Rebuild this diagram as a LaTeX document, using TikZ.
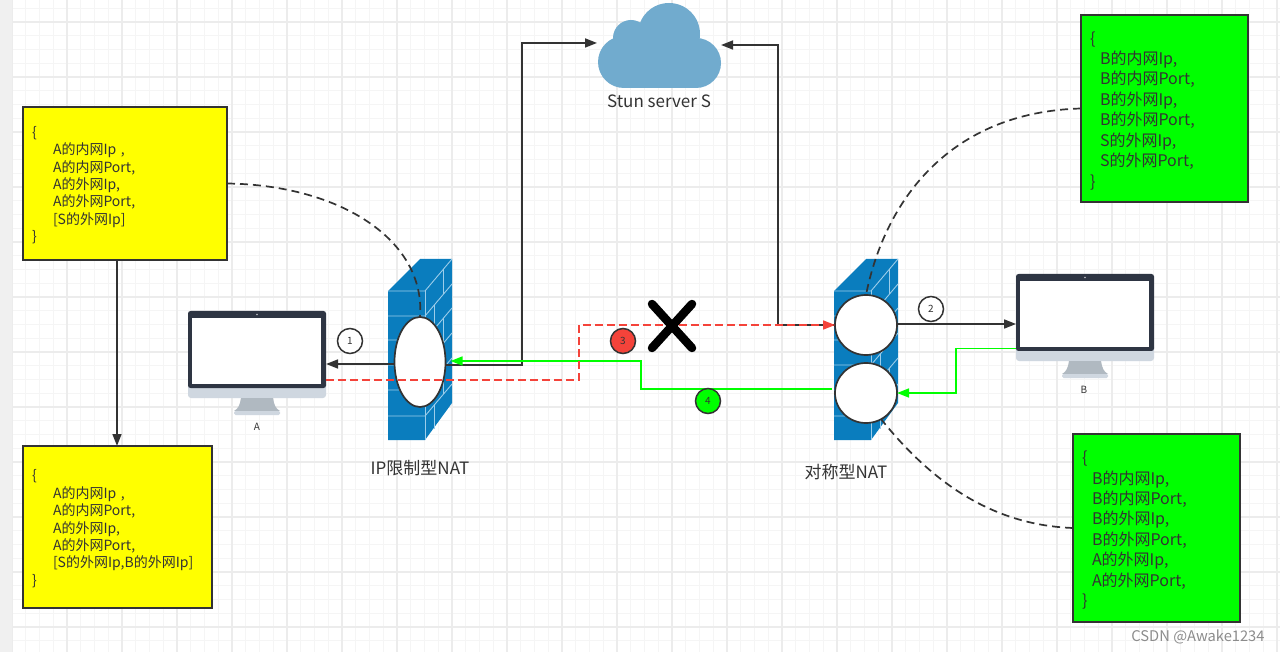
\documentclass[tikz,border=0pt]{standalone}
\usepackage{fontspec}
\setmainfont{Noto Sans CJK SC}
\usetikzlibrary{arrows.meta,shapes.geometric}
\definecolor{ink}{HTML}{333333}
\definecolor{wallblue}{HTML}{0A7DBE}
\definecolor{brick}{HTML}{9CCDEA}
\definecolor{cloudblue}{HTML}{71ABCE}
\definecolor{lime}{HTML}{00FF00}
\definecolor{lemon}{HTML}{FFFF00}
\definecolor{alarm}{HTML}{F4433A}
\definecolor{screenframe}{HTML}{2E3543}
\definecolor{chin}{HTML}{CFD7E0}
\definecolor{stand}{HTML}{B0B9C1}
\definecolor{gridfine}{HTML}{F5F5F5}
\definecolor{gridbold}{HTML}{ECECEC}
\tikzset{
  x=1pt, y=-1pt,
  minorgrid/.style={draw=gridfine, line width=1.2pt},
  majorgrid/.style={draw=gridbold, line width=1.2pt},
  infobox/.style={draw=ink, line width=2pt, outer sep=0pt, inner ysep=0pt, inner xsep=#1, align=left,
    text=ink, anchor=center, font=\fontsize{14}{17.4}\selectfont},
  greenbox/.style={infobox=#1, fill=lime, font=\fontsize{16}{20.45}\selectfont},
  yellowbox/.style={infobox=#1, fill=lemon},
  hole/.style={draw=ink, line width=1.7pt, fill=white, outer sep=0pt, inner sep=0pt},
  badge/.style={circle, draw=ink, line width=1.5pt, fill=white, minimum size=25pt, inner sep=0pt,
    text=ink, font=\fontsize{10}{12}\selectfont},
  caption/.style={text=ink, inner sep=0pt, font=\fontsize{17}{20}\selectfont},
  small/.style={text=ink, inner sep=0pt, font=\fontsize{10}{12}\selectfont},
  solidflow/.style={draw=ink, line width=1.7pt, -{Triangle[length=12pt,width=9pt]}},
  greenflow/.style={draw=lime, line width=1.6pt, -{Triangle[length=12pt,width=9pt]}},
  redflow/.style={draw=alarm, line width=1.7pt, dash pattern=on 8pt off 4pt, -{Triangle[length=12pt,width=9pt]}},
  tether/.style={draw=ink, line width=1.7pt, dash pattern=on 8pt off 5pt},
  frame/.style={fill=screenframe, rounded corners=2.5pt, outer sep=0pt, inner sep=0pt, minimum width=138pt, minimum height=77pt},
}
% Firewall block: front face, side face and brick joints
\newcommand{\brickwall}[1]{%
  \begin{scope}[shift={(#1,0)}]
    \fill[wallblue] (388,291) -- (420,259) -- (452,259) -- (452,403) -- (425,440) -- (388,440) -- cycle;
    \begin{scope}[draw=brick, line width=0.9pt]
      \draw (388,291) -- (425,291) -- (452,259);
      \draw (425,291) -- (425,440);
      \foreach \ya in {316,340,365,390,416} {
        \draw (388,\ya) -- (425,\ya) -- (452,\ya-32);
      }
      \draw (443,269) -- (443,294);
      \draw (434,305) -- (434,329);
      \draw (443,318) -- (443,343);
      \draw (434,354) -- (434,379);
      \draw (443,368) -- (443,394);
      \draw (434,404) -- (434,429);
    \end{scope}
  \end{scope}}
% Desktop monitor: name, left edge, top edge
\newcommand{\desktop}[3]{%
  \begin{scope}[shift={(#2,#3)}]
    \fill[chin, rounded corners=3pt] (0,70) rectangle (138,87);
    \fill[stand] (53,87) -- (85,87) .. controls (86,94) and (88,98) .. (92,100) -- (46,100) .. controls (50,98) and (52,94) .. (53,87) -- cycle;
    \fill[chin, rounded corners=1.5pt] (46,100) rectangle (92,104);
    \node[frame] (#1) at (69,38.5) {};
    \fill[white] (4,7) rectangle (133,73);
    \fill[white!70!screenframe] (69,3.5) circle (0.8pt);
  \end{scope}}
\begin{document}
\begin{tikzpicture}
  \useasboundingbox (0,0) rectangle (1280,652);
  \fill[white] (0,0) rectangle (1280,652);
  % Squared paper
  \foreach \i in {0,...,92} \draw[minorgrid] ({12+13.75*\i},0) -- ({12+13.75*\i},652);
  \foreach \j in {0,...,47} \draw[minorgrid] (12,{8.25+13.75*\j}) -- (1280,{8.25+13.75*\j});
  \foreach \i in {0,...,23} \draw[majorgrid] ({12+55*\i},0) -- ({12+55*\i},652);
  \foreach \j in {0,...,11} \draw[majorgrid] (12,{22+55*\j}) -- (1280,{22+55*\j});
  \fill[black!6] (0,0) rectangle (12,652);

  % Stun server cloud
  \fill[cloudblue] (624,62) circle (26pt) (696,63) circle (25pt) (631,38) circle (18pt) (669,34) circle (31pt);
  \fill[cloudblue] (624,40) rectangle (696,88);
  \coordinate (cloudL) at (597,43);
  \coordinate (cloudR) at (721,45);
  \node[caption] (stun) at (659,101) {Stun server S};

  \brickwall{0}
  \brickwall{446}
  \desktop{monA}{188}{311}
  \desktop{monB}{1016}{274}
  \node[small] (labelA) at (257,427) {A};
  \node[small] (labelB) at (1084,390) {B};

  % Address tables
  \node[yellowbox=9pt, text width=186pt, minimum height=153pt] (tableA) at (125,183.5) {%
    \rule{0pt}{14.5pt}\{\\
    \hspace*{21pt}A的内网Ip ,\\
    \hspace*{21pt}A的内网Port,\\
    \hspace*{21pt}A的外网Ip,\\
    \hspace*{21pt}A的外网Port,\\
    \hspace*{21pt}[S的外网Ip]\\
    \}};
  \node[yellowbox=9pt, text width=171pt, minimum height=162pt] (tableAnext) at (117.5,527) {%
    \rule{0pt}{14.5pt}\{\\
    \hspace*{21pt}A的内网Ip ,\\
    \hspace*{21pt}A的内网Port,\\
    \hspace*{21pt}A的外网Ip,\\
    \hspace*{21pt}A的外网Port,\\
    \hspace*{21pt}[S的外网Ip,B的外网Ip]\\
    \}};
  \node[greenbox=9pt, text width=149pt, minimum height=187pt] (tableB) at (1164.5,108.5) {%
    \rule{0pt}{17pt}\{\\
    \hspace*{10pt}B的内网Ip,\\
    \hspace*{10pt}B的内网Port,\\
    \hspace*{10pt}B的外网Ip,\\
    \hspace*{10pt}B的外网Port,\\
    \hspace*{10pt}S的外网Ip,\\
    \hspace*{10pt}S的外网Port,\\
    \}};
  \node[greenbox=9pt, text width=149pt, minimum height=188pt] (tableBnext) at (1156.5,528) {%
    \rule{0pt}{17pt}\{\\
    \hspace*{10pt}B的内网Ip,\\
    \hspace*{10pt}B的内网Port,\\
    \hspace*{10pt}B的外网Ip,\\
    \hspace*{10pt}B的外网Port,\\
    \hspace*{10pt}A的外网Ip,\\
    \hspace*{10pt}A的外网Port,\\
    \}};

  % NAT openings
  \node[hole, ellipse, minimum width=51pt, minimum height=90pt] (holeA) at (420,362) {};
  \node[hole, ellipse, minimum width=62pt, minimum height=60pt] (holeB) at (866,325) {};
  \node[hole, ellipse, minimum width=62pt, minimum height=60pt] (holeC) at (866,393) {};

  % Dashed leaders from the tables to the openings
  \draw[tether] (tableA.east) .. controls (340,185) and (426,240) .. (holeA.north);
  \draw[tether] (tableB.west) .. controls (950,112) and (885,200) .. (holeB.north);
  \draw[tether] (tableBnext.west) .. controls (990,525) and (930,480) .. (holeC.-60);

  % Solid flows
  \draw[solidflow] ([xshift=-8pt]tableA.south) -- ([xshift=-0.5pt]tableAnext.north);
  \draw[solidflow] ([yshift=-2pt]holeA.west) -- ([yshift=-14.5pt]monA.east);
  \draw[solidflow] ([yshift=-3pt]holeA.east) -- (522,365) -- (522,43) -- (cloudL);
  \draw[solidflow] (holeB.west) -- (778,325) -- (778,45) -- (cloudR);
  \draw[solidflow] ([yshift=1pt]holeB.east) -- ([yshift=-11.5pt]monB.west);

  % Green return paths
  \draw[greenflow] ([xshift=-3pt,yshift=4pt]holeC.west) -- (641,389) -- (641,361) -- ([xshift=5pt,yshift=1pt]holeA.east);
  \draw[greenflow] ([yshift=-36pt]monB.west) -- (956,348.5) -- (956,393) -- (holeC.east);

  % Blocked probe
  \draw[redflow] ([yshift=-30.5pt]monA.east) -- (579,380) -- (579,325) -- (holeB.west);
  \draw[black, line width=8.5pt, line cap=round] (652,304) -- (692,348);
  \draw[black, line width=8.5pt, line cap=round] (692,304) -- (652,348);

  % Step markers
  \node[badge] (stepone) at (350,341) {1};
  \node[badge] (steptwo) at (931,309) {2};
  \node[badge, fill=alarm] (stepthree) at (623,341) {3};
  \node[badge, fill=lime] (stepfour) at (708,401) {4};

  \node[caption] (natA) at (420,468) {IP限制型NAT};
  \node[caption] (natB) at (846,472) {对称型NAT};
  \node[text=black!45, inner sep=0pt, font=\fontsize{14.7}{16}\selectfont] (mark) at (1198,637) {CSDN @Awake1234};
\end{tikzpicture}
\end{document}
